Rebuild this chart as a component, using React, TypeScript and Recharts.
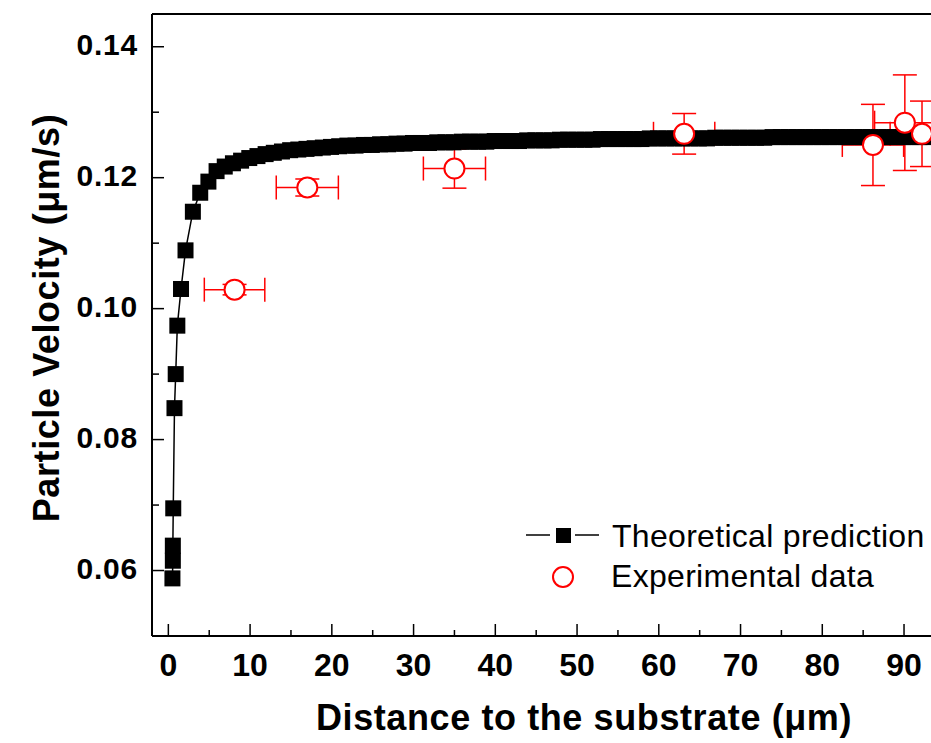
import React from "react";
import { ScatterChart, Scatter, XAxis, YAxis, ErrorBar, ReferenceLine, Legend } from "recharts";

// theoretical prediction (distance in µm, velocity in µm/s)
const theoryX = [
  0.5, 0.55, 0.55, 0.6, 0.75, 0.9, 1.1, 1.55, 2.1, 3.0, 3.9, 4.9, 5.9,
  6.9, 7.9, 8.9, 9.9, 10.9, 11.9, 12.9, 13.9, 14.9, 15.9, 16.9, 17.9, 18.9, 19.9,
  20.9, 21.9, 22.9, 23.9, 24.9, 25.9, 26.9, 27.9, 28.9, 29.9, 30.9, 31.9, 32.9,
  33.9, 34.9, 35.9, 36.9, 37.9, 38.9, 39.9, 40.9, 41.9, 42.9, 43.9, 44.9, 45.9,
  46.9, 47.9, 48.9, 49.9, 50.9, 51.9, 52.9, 53.9, 54.9, 55.9, 56.9, 57.9, 58.9,
  59.9, 60.9, 61.9, 62.9, 63.9, 64.9, 65.9, 66.9, 67.9, 68.9, 69.9, 70.9, 71.9,
  72.9, 73.9, 74.9, 75.9, 76.9, 77.9, 78.9, 79.9, 80.9, 81.9, 82.9, 83.9, 84.9,
  85.9, 86.9, 87.9, 88.9, 89.9, 90.9, 91.9, 92.9,
];
const theoryY = [
  0.0588, 0.0615, 0.0638, 0.0695, 0.0848, 0.09, 0.0974, 0.103, 0.1089, 0.1148, 0.1177, 0.1194, 0.121,
  0.1217, 0.1222, 0.1226, 0.123, 0.1233, 0.1236, 0.1238, 0.124, 0.1242, 0.1243, 0.1244, 0.1245, 0.1246, 0.1247,
  0.1248, 0.1249, 0.1249, 0.125, 0.125, 0.1251, 0.1251, 0.1252, 0.1252, 0.1253, 0.1253, 0.1253, 0.1254,
  0.1254, 0.1254, 0.1255, 0.1255, 0.1255, 0.1255, 0.1256, 0.1256, 0.1256, 0.1256, 0.1257, 0.1257, 0.1257,
  0.1257, 0.1258, 0.1258, 0.1258, 0.1258, 0.1258, 0.1259, 0.1259, 0.1259, 0.1259, 0.1259, 0.1259, 0.126,
  0.126, 0.126, 0.126, 0.126, 0.126, 0.126, 0.126, 0.1261, 0.1261, 0.1261, 0.1261, 0.1261, 0.1261,
  0.1261, 0.1262, 0.1262, 0.1262, 0.1262, 0.1262, 0.1262, 0.1262, 0.1262, 0.1262, 0.1262, 0.1262, 0.1262,
  0.1262, 0.1262, 0.1262, 0.1262, 0.1262, 0.1262, 0.1262, 0.1262,
];

// experimental data with errors
const expX = [8.1, 17.0, 35.0, 63.1, 86.2, 90.1, 92.2];
const expY = [0.1029, 0.1185, 0.1214, 0.1267, 0.125, 0.1284, 0.1267];
const expXErr = [3.7, 3.8, 3.8, 3.75, 3.75, 3.7, 3.9];
const expYErr = [0.0008, 0.0013, 0.003, 0.0031, 0.0062, 0.0073, 0.005];

const xTicks = [0, 5, 10, 15, 20, 25, 30, 35, 40, 45, 50, 55, 60, 65, 70, 75, 80, 85, 90];
const yTicks = [0.06, 0.07, 0.08, 0.09, 0.1, 0.11, 0.12, 0.13, 0.14];

const theory = theoryX.map((x, i) => ({ x, y: theoryY[i] }));
const experimental = expX.map((x, i) => ({ x, y: expY[i], ex: expXErr[i], ey: expYErr[i] }));

const FONT = '"Liberation Sans", Arial, Helvetica, sans-serif';

const XTick = (props: any) => {
  const { x, y, payload } = props;
  const major = payload.value % 10 === 0;
  return (
    <g>
      <line x1={x} x2={x} y1={y} y2={y - (major ? 12 : 6)} stroke="#000" strokeWidth={1.5} />
      {major && (
        <text x={x} y={y + 40} textAnchor="middle" fontFamily={FONT} fontWeight="bold" fontSize={32} fill="#000">
          {payload.value}
        </text>
      )}
    </g>
  );
};

const YTick = (props: any) => {
  const { x, y, payload } = props;
  const major = Math.round(payload.value * 100) % 2 === 0;
  return (
    <g>
      <line x1={x} x2={x + (major ? 12 : 7)} y1={y} y2={y} stroke="#000" strokeWidth={1.5} />
      {major && (
        <text x={x - 14} y={y + 8} textAnchor="end" fontFamily={FONT} fontWeight="bold" fontSize={30}
          letterSpacing={0.8} fill="#000">
          {payload.value.toFixed(2)}
        </text>
      )}
    </g>
  );
};

const Square = (props: any) => (
  <rect x={props.cx - 8} y={props.cy - 8} width={16} height={16} fill="#000" />
);

const OpenCircle = (props: any) => (
  <circle cx={props.cx} cy={props.cy} r={10} fill="#fff" stroke="#ff0000" strokeWidth={2} />
);

const LegendBox = () => (
  <svg width={411} height={90} style={{ display: "block" }}>
    <line x1={6} x2={30} y1={25} y2={25} stroke="#000" strokeWidth={1.5} />
    <line x1={55} x2={79} y1={25} y2={25} stroke="#000" strokeWidth={1.5} />
    <rect x={36} y={18} width={15} height={15} fill="#000" />
    <text x={92} y={37} fontFamily={FONT} fontSize={32} letterSpacing={0.3} fill="#000">
      Theoretical prediction
    </text>
    <circle cx={43} cy={67} r={10} fill="#fff" stroke="#ff0000" strokeWidth={2} />
    <text x={91} y={77} fontFamily={FONT} fontSize={32} letterSpacing={0.3} fill="#000">
      Experimental data
    </text>
  </svg>
);

export default function App() {
  return (
    <div style={{ position: "absolute", left: 0, top: 0, width: 931, height: 743, background: "#fff" }}>
      <ScatterChart width={931} height={743} margin={{ top: 14, right: 0, bottom: 0, left: 0 }}>
        <XAxis
          dataKey="x"
          type="number"
          domain={[-2, 93.3]}
          allowDataOverflow
          ticks={xTicks}
          interval={0}
          tick={<XTick />}
          tickLine={false}
          tickSize={0}
          tickMargin={0}
          height={107}
          axisLine={{ stroke: "#000", strokeWidth: 2 }}
          label={() => (
            <text x={584} y={730} textAnchor="middle" fontFamily={FONT} fontWeight="bold" fontSize={36}
              letterSpacing={0.6} fill="#000">
              Distance to the substrate (μm)
            </text>
          )}
        />
        <YAxis
          dataKey="y"
          type="number"
          domain={[0.05, 0.145]}
          allowDataOverflow
          ticks={yTicks}
          interval={0}
          tick={<YTick />}
          tickLine={false}
          tickSize={0}
          tickMargin={0}
          width={152}
          axisLine={{ stroke: "#000", strokeWidth: 2 }}
          label={() => (
            <text transform="translate(59,318) rotate(-90)" textAnchor="middle" fontFamily={FONT}
              fontWeight="bold" fontSize={36} letterSpacing={0.6} fill="#000">
              Particle Velocity (μm/s)
            </text>
          )}
        />
        <ReferenceLine y={0.145} stroke="#000" strokeWidth={2} />
        <Scatter
          data={theory}
          dataKey="y"
          shape={<Square />}
          line={{ stroke: "#000", strokeWidth: 1.5 }}
          lineType="joint"
          isAnimationActive={false}
        />
        <Scatter data={experimental} dataKey="y" shape={<OpenCircle />} isAnimationActive={false}>
          <ErrorBar dataKey="ex" direction="x" width={12} stroke="#ff0000" strokeWidth={1.5} />
          <ErrorBar dataKey="ey" direction="y" width={12} stroke="#ff0000" strokeWidth={1.5} />
        </Scatter>
        <Legend
          content={() => <LegendBox />}
          layout="horizontal"
          verticalAlign="middle"
          align="center"
          wrapperStyle={{ left: 520, top: 510, width: 411, height: 90 }}
        />
      </ScatterChart>
    </div>
  );
}
